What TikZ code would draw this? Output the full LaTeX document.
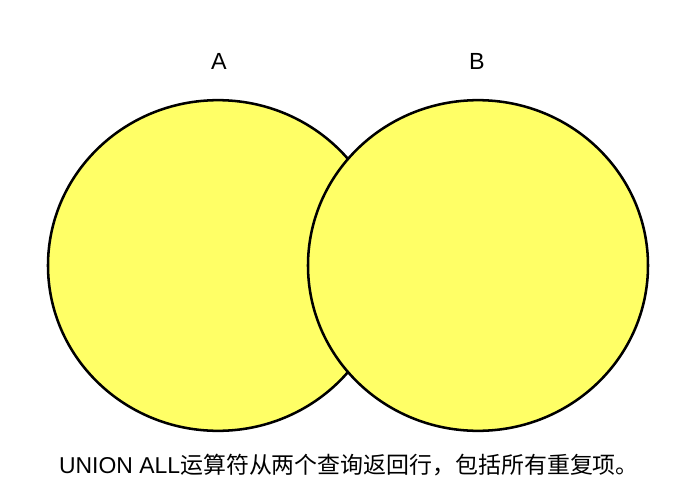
\documentclass[tikz,border=0pt]{standalone}
\usepackage{fontspec}
\setmainfont{Liberation Sans}
\newfontfamily\cjk{Noto Sans CJK SC}
\usetikzlibrary{shapes.geometric, positioning}

\definecolor{setyellow}{HTML}{FFFF66}

\tikzset{
    setshape/.style={ellipse, draw=black, line width=1.9pt, fill=setyellow,
        minimum width=255pt, minimum height=248pt, inner sep=0pt},
    setlabel/.style={font=\fontsize{17.5}{20}\selectfont, inner sep=0pt}
}

\begin{document}
\begin{tikzpicture}[x=0.75pt, y=-0.75pt]
\useasboundingbox (0,0) rectangle (687,493);

% The two sets, B drawn over A
\node[setshape] (setA) at (218,265.5) {};
\node[setshape] (setB) at (478,265.5) {};

% Set names
\node[setlabel, anchor=base] (labA) at (219,69) {A};
\node[setlabel, anchor=base] (labB) at (477,69) {B};

% Caption
\node[font=\fontsize{17.2}{20}\selectfont, inner sep=0pt, anchor=base] (caption) at (349,473)
    {UNION ALL{\cjk 运算符从两个查询返回行，包括所有重复项。}};
\end{tikzpicture}
\end{document}
